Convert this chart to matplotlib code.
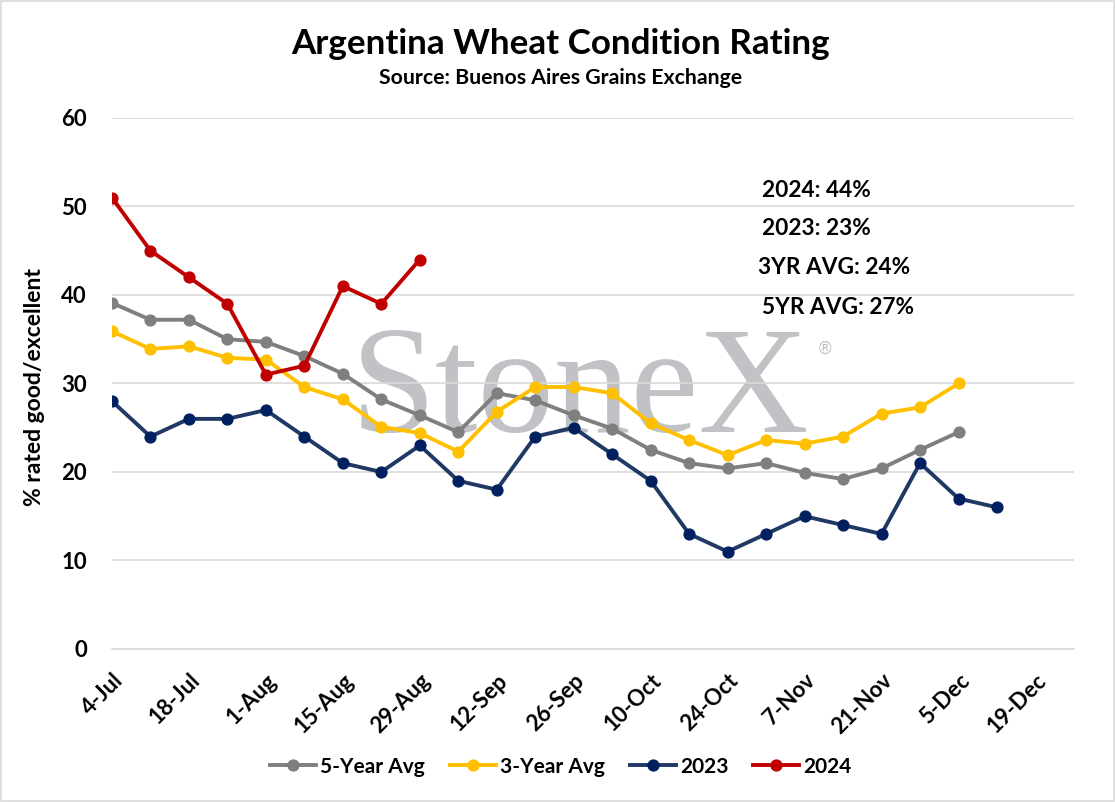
import matplotlib
matplotlib.use("Agg")
import matplotlib.pyplot as plt
from matplotlib.patches import Rectangle
from matplotlib.lines import Line2D
import numpy as np

plt.rcParams['font.family'] = ['Lato', 'DejaVu Sans']

# weekly observations starting 4-Jul (week index 0)
avg5 = [39.1, 37.2, 37.2, 35.0, 34.7, 33.1, 31.1, 28.2, 26.4, 24.5, 28.9, 28.1,
        26.4, 24.9, 22.5, 21.0, 20.4, 21.0, 19.9, 19.2, 20.4, 22.5, 24.5]
avg3 = [35.9, 33.9, 34.2, 32.9, 32.7, 29.6, 28.2, 25.1, 24.4, 22.3, 26.8, 29.6,
        29.6, 28.9, 25.5, 23.6, 21.9, 23.6, 23.2, 24.0, 26.6, 27.3, 30.0]
y2023 = [28, 24, 26, 26, 27, 24, 21, 20, 23, 19, 18, 24, 25, 22, 19, 13, 11, 13,
         15, 14, 13, 21, 17, 16]
y2024 = [51, 45, 42, 39, 31, 32, 41, 39, 44]

tick_labels = ['4-Jul', '18-Jul', '1-Aug', '15-Aug', '29-Aug', '12-Sep', '26-Sep',
               '10-Oct', '24-Oct', '7-Nov', '21-Nov', '5-Dec', '19-Dec']
notes = ['2024: 44%', '2023: 23%', '3YR AVG: 24%', '5YR AVG: 27%']

series = [
    ('5-Year Avg', avg5, '#7f7f7f', '#7f7f7f'),
    ('3-Year Avg', avg3, '#ffc000', '#ffc000'),
    ('2023', y2023, '#1f3864', '#002060'),
    ('2024', y2024, '#c00000', '#c00000'),
]

fig = plt.figure(figsize=(11.15, 8.02), dpi=100)
ax = fig.add_axes([0.1004, 0.1908, 0.8628, 0.6621])

handles = []
for name, vals, col, mcol in series:
    x = np.arange(len(vals)) * 7
    ax.plot(x, vals, color=col, lw=2.8, marker='o', ms=7.8,
            mfc=mcol, mec=mcol, zorder=3, solid_joinstyle='round')
    handles.append(Line2D([], [], color=col, lw=2.8, marker='o', ms=7.8,
                          mfc=mcol, mec=mcol))

ax.set_xlim(0, 25 * 7)
ax.set_ylim(0, 60)
ax.set_yticks(np.arange(0, 61, 10))
ax.set_xticks(np.arange(len(tick_labels)) * 14)
ax.set_xticklabels(tick_labels, rotation=45, ha='right', va='top',
                   rotation_mode='anchor', fontsize=16, fontweight='bold')
for lab in ax.get_yticklabels():
    lab.set_fontsize(16)
    lab.set_fontweight('bold')
ax.tick_params(axis='x', length=0, pad=15)
ax.tick_params(axis='y', length=0, pad=18)

ax.set_axisbelow(True)
ax.grid(axis='y', color='#d9d9d9', lw=1.2)
for s in ['top', 'right', 'left']:
    ax.spines[s].set_visible(False)
ax.spines['bottom'].set_color('#d9d9d9')
ax.spines['bottom'].set_linewidth(1.2)

ax.set_ylabel('% rated good/excellent', fontsize=16.5, fontweight='bold')
ax.yaxis.set_label_coords(-0.0697, 0.4925)

# watermark
ax.text(0.4865, 0.409, 'StoneX', transform=ax.transAxes, ha='center', va='baseline',
        fontsize=110, family='Liberation Serif', color='#c0c2c5', zorder=0.2)
ax.text(0.741, 0.565, '\u00ae', transform=ax.transAxes, ha='center', va='center',
        fontsize=12, family='DejaVu Sans', color='#c0c2c5', zorder=0.2)

note_pos = [(0.676, 0.864), (0.676, 0.791), (0.672, 0.7175), (0.676, 0.644)]
for t, (px, py) in zip(notes, note_pos):
    ax.text(px, py, t, transform=ax.transAxes, ha='left', va='center',
            fontsize=16.3, fontweight='bold')

fig.text(0.503, 0.945, 'Argentina Wheat Condition Rating', ha='center', va='center',
         fontsize=25.2, fontweight='bold')
fig.text(0.503, 0.903, 'Source: Buenos Aires Grains Exchange', ha='center', va='center',
         fontsize=15.3, fontweight='bold')

fig.legend(handles, [s[0] for s in series], loc='center', bbox_to_anchor=(0.503, 0.044),
           ncol=4, frameon=False, handlelength=2.2, columnspacing=1.2, handletextpad=0.2,
           prop={'size': 15, 'weight': 'bold'})

fig.patches.append(Rectangle((0.001, 0.001), 0.998, 0.998, transform=fig.transFigure,
                             fill=False, ec='#d9d9d9', lw=1.2))

fig.savefig('out.png', dpi=100)
